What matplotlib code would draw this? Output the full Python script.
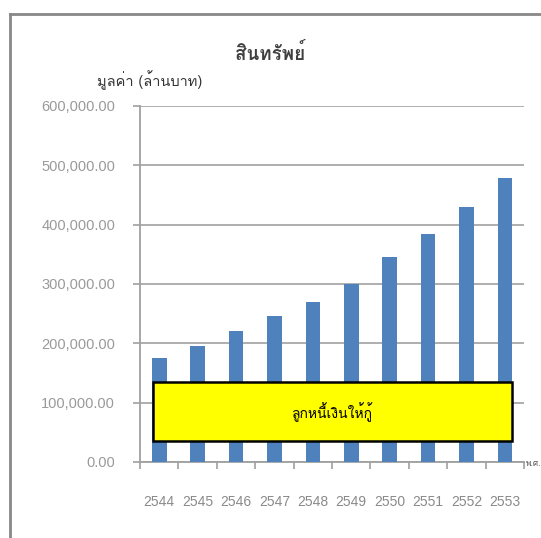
import matplotlib
matplotlib.use("Agg")
import matplotlib.pyplot as plt
from matplotlib import font_manager, ft2font
from matplotlib.lines import Line2D
from matplotlib.patches import Rectangle

# Data (values in million baht)
years = ['2544', '2545', '2546', '2547', '2548', '2549', '2550', '2551', '2552', '2553']
assets = [175000, 195000, 220000, 246000, 270000, 300000, 345000, 385000, 430000, 478000]
y_ticks = [0, 100000, 200000, 300000, 400000, 500000, 600000]

title_text = 'สินทรัพย์'
ylabel_text = 'มูลค่า (ล้านบาท)'
box_text = 'ลูกหนี้เงินให้กู้'
xlabel_text = 'พ.ศ.'


def find_thai_font():
    # look for an installed font that has Thai glyphs
    found = []
    for f in font_manager.fontManager.ttflist:
        try:
            cmap = ft2font.FT2Font(f.fname).get_charmap()
        except Exception:
            continue
        if 0x0E2A in cmap and f.name not in found:
            found.append(f.name)
    return found


thai_family = find_thai_font()[:1] + ['DejaVu Sans']

fig = plt.figure(figsize=(5.41, 5.38), dpi=100)
ax = fig.add_axes([0.2588, 0.1413, 0.7098, 0.6617])

x = list(range(len(years)))
ax.bar(x, assets, width=0.38, color='#4F81BD', zorder=3)

ax.set_xlim(-0.5, len(years) - 0.5)
ax.set_ylim(0, 600000)
ax.set_yticks(y_ticks)
ax.set_yticklabels([f'{v:,.2f}' for v in y_ticks], fontsize=10.5,
                   color='#9a9a9a', family='Liberation Sans')
ax.set_xticks(x)
ax.set_xticklabels(years, fontsize=10, color='#8a8a8a', family='Liberation Sans')
ax.set_xticks([i - 0.5 for i in range(len(years) + 1)], minor=True)
ax.tick_params(axis='x', which='major', length=0, pad=24)
ax.tick_params(axis='x', which='minor', length=5, color='#a0a0a0', width=1.2)
ax.tick_params(axis='y', length=5, color='#a0a0a0', width=1.2, pad=13)

ax.grid(axis='y', color='#a8a8a8', linewidth=1.3, zorder=0)
for side in ['top', 'right']:
    ax.spines[side].set_visible(False)
for side in ['left', 'bottom']:
    ax.spines[side].set_color('#a0a0a0')
    ax.spines[side].set_linewidth(1.3)

# yellow label box
ax.add_patch(Rectangle((0.035, 0.058), 0.933, 0.167, transform=ax.transAxes,
                       facecolor='#FFFF00', edgecolor='black', linewidth=1.8, zorder=5))
ax.text(0.5, 0.14, box_text, transform=ax.transAxes, ha='center', va='center',
        fontsize=10, color='black', family=thai_family, zorder=6)

fig.text(0.50, 0.900, title_text, ha='center', va='center', fontsize=13.5,
         fontweight='bold', color='#404040', family=thai_family)
fig.text(0.276, 0.851, ylabel_text, ha='center', va='center', fontsize=10.5,
         color='#333333', family=thai_family)
fig.text(0.972, 0.139, xlabel_text, ha='left', va='center', fontsize=6,
         color='#555555', family=thai_family)

# outer chart frame
fig.add_artist(Line2D([0.0185, 0.0185], [0.0, 0.974], color='#888888', linewidth=2))
fig.add_artist(Line2D([0.0185, 1.0], [0.974, 0.974], color='#888888', linewidth=2))

fig.savefig('out.png', dpi=100)
